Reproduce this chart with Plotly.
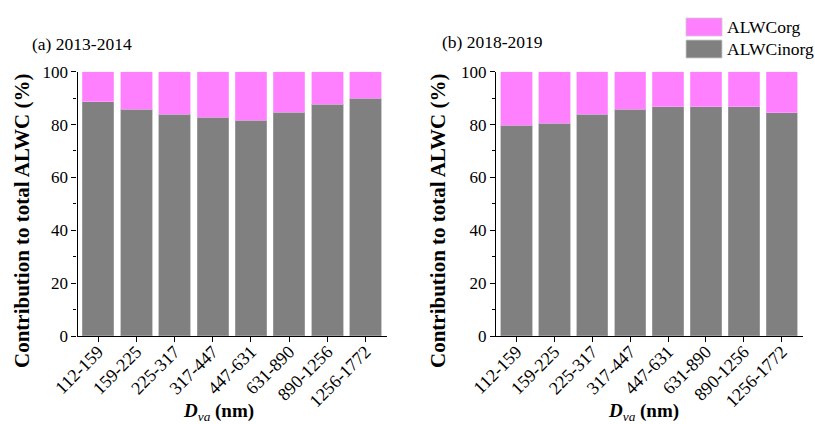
import plotly.graph_objects as go

size_bins = ["112-159", "159-225", "225-317", "317-447", "447-631", "631-890", "890-1256", "1256-1772"]

# Share of total aerosol liquid water content (%)
inorg_2013 = [88.7, 85.7, 83.9, 82.7, 81.6, 84.7, 87.7, 89.9]
inorg_2018 = [79.7, 80.5, 83.9, 85.7, 86.8, 86.8, 86.8, 84.5]
org_2013 = [100 - v for v in inorg_2013]
org_2018 = [100 - v for v in inorg_2018]

PINK = "#FF80FF"
GREY = "#808080"
FONT = "Liberation Serif"
W, H = 815, 424

fig = go.Figure()

for inorg, org, xa, ya in [(inorg_2013, org_2013, "x", "y"), (inorg_2018, org_2018, "x2", "y2")]:
    fig.add_trace(go.Bar(x=size_bins, y=inorg, name="ALWCinorg", marker=dict(color=GREY, line=dict(color="#a8a8a8", width=0.6)),
                         xaxis=xa, yaxis=ya, showlegend=False))
    fig.add_trace(go.Bar(x=size_bins, y=org, name="ALWCorg", marker=dict(color=PINK, line=dict(color="#ffaaff", width=0.6)),
                         xaxis=xa, yaxis=ya, showlegend=False))

ydom = [(H - 336) / H, (H - 71.7) / H]
xcommon = dict(type="category", range=[-0.54, 7.56], showline=True, linecolor="black", linewidth=1.2,
               ticks="outside", ticklen=5, tickcolor="black", tickangle=-45, automargin=False,
               ticklabelstandoff=-8,
               tickfont=dict(family=FONT, size=18, color="black"), showgrid=False, zeroline=False)
ycommon = dict(range=[0, 100], tickvals=[0, 20, 40, 60, 80, 100], showline=True, linecolor="black", linewidth=1.2,
               ticks="outside", ticklen=5, tickcolor="black", automargin=False,
               minor=dict(tickvals=[10, 30, 50, 70, 90], ticks="outside", ticklen=3, tickcolor="black"),
               tickfont=dict(family=FONT, size=17, color="black"), showgrid=False, zeroline=False, domain=ydom)

fig.update_layout(
    width=W, height=H, barmode="stack", bargap=0.175,
    margin=dict(l=0, r=0, t=0, b=0),
    paper_bgcolor="white", plot_bgcolor="white",
    xaxis=dict(domain=[77.5 / W, 387 / W], anchor="y", **xcommon),
    yaxis=dict(anchor="x", **ycommon),
    xaxis2=dict(domain=[496 / W, 803 / W], anchor="y2", **xcommon),
    yaxis2=dict(anchor="x2", **ycommon),
)

ann = []
# panel labels
ann.append(dict(text="(a) 2013-2014", x=30 / W, y=1 - 44 / H, xref="paper", yref="paper", xanchor="left", yanchor="middle",
                showarrow=False, font=dict(family=FONT, size=17.5, color="black")))
ann.append(dict(text="(b) 2018-2019", x=440 / W, y=1 - 42 / H, xref="paper", yref="paper", xanchor="left", yanchor="middle",
                showarrow=False, font=dict(family=FONT, size=17.5, color="black")))
# axis titles
for xc in [22, 438]:
    ann.append(dict(text="<b>Contribution to total ALWC (%)</b>", x=xc / W, y=1 - 221 / H, xref="paper", yref="paper",
                    textangle=-90, showarrow=False, xanchor="center", yanchor="middle",
                    font=dict(family=FONT, size=21, color="black")))
for xc in [218, 643]:
    ann.append(dict(text="<b><i>D</i></b><sub><i>va</i></sub><b> (nm)</b>", x=xc / W, y=1 - 412 / H, xref="paper",
                    yref="paper", showarrow=False, xanchor="center", yanchor="middle",
                    font=dict(family=FONT, size=19, color="black")))
# legend
for label, color, yc in [("ALWCorg", PINK, 27), ("ALWCinorg", GREY, 49)]:
    ann.append(dict(text=label, x=725 / W, y=1 - yc / H, xref="paper", yref="paper", showarrow=False,
                    xanchor="left", yanchor="middle", font=dict(family=FONT, size=17.5, color="black")))
fig.update_layout(annotations=ann)

shapes = []
for color, y0, y1 in [(PINK, 18, 36), (GREY, 40, 58)]:
    shapes.append(dict(type="rect", xref="paper", yref="paper", x0=686 / W, x1=722 / W,
                       y0=1 - y1 / H, y1=1 - y0 / H, fillcolor=color, line=dict(color="#cccccc", width=0.8)))
fig.update_layout(shapes=shapes)

fig.write_html("out.html")
